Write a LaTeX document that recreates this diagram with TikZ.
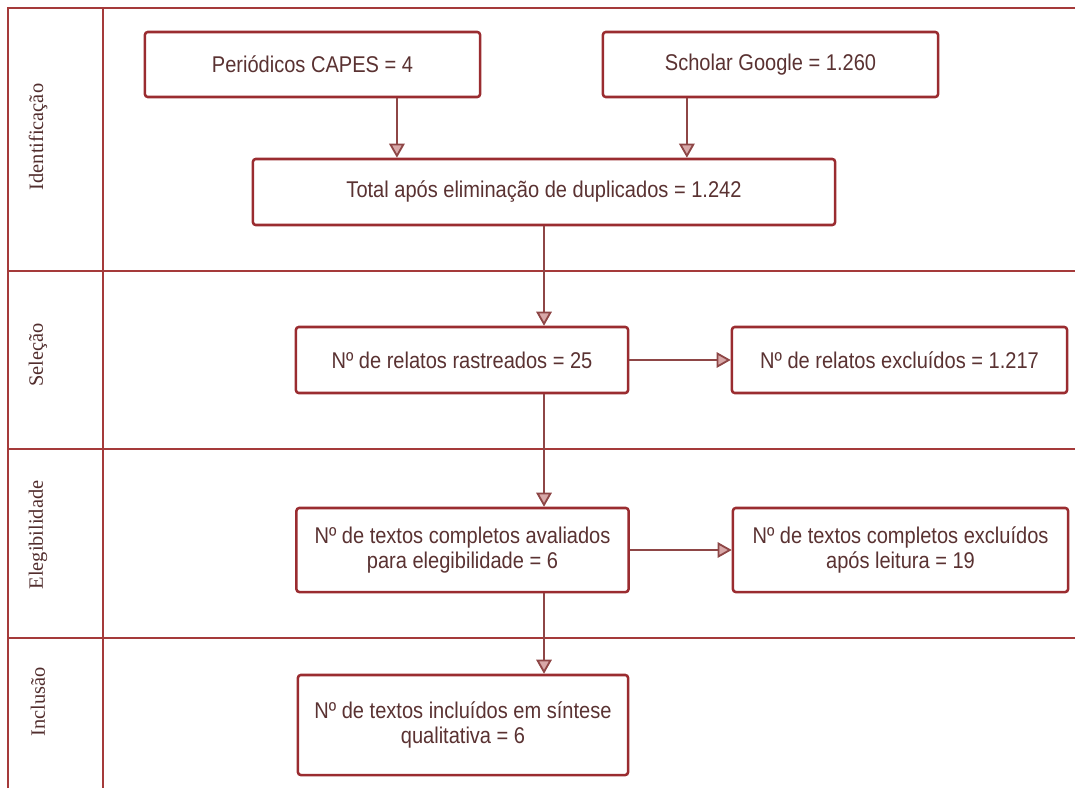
\documentclass[tikz,border=0pt]{standalone}
\usepackage{fontspec}
\usetikzlibrary{arrows.meta}
\setmainfont{Liberation Serif}
\newfontfamily\boxfont{Liberation Sans}[FakeStretch=0.88]
\definecolor{framered}{HTML}{A53A3A}
\definecolor{boxred}{HTML}{9A2C30}
\definecolor{textbrown}{HTML}{5A3232}
\definecolor{linkred}{HTML}{8E4646}
\definecolor{tipfill}{HTML}{D8A8A8}

\begin{document}
\begin{tikzpicture}[x=0.025cm,y=-0.025cm,
	frame/.style={framered,line width=1.4pt},
	stage/.style={rotate=90,font=\fontsize{14.5}{16}\selectfont,text=textbrown!90!black},
	box/.style={draw=boxred,line width=1.8pt,rounded corners=2pt,fill=white,inner sep=0pt,
		font=\boxfont\fontsize{16.2}{18}\selectfont,text=textbrown,align=center},
	link/.style={linkred,line width=1.3pt,-{Triangle[width=11pt,length=10pt,fill=tipfill]}}]
	\useasboundingbox (0,0) rectangle (1075,788);
	
	% Frame
	\draw[frame] (8,788) -- (8,8) -- (1075,8);
	\draw[frame] (103,8) -- (103,788);
	\foreach \y in {271,449,638}
		\draw[frame] (8,\y) -- (1075,\y);
	
	%Label
	\node[stage] (ident) at (38,137) {Identificação};
	\node[stage] (selec) at (38,355) {Seleção};
	\node[stage] (eleg) at (38,535) {Elegibilidade};
	\node[stage] (incl) at (38,702) {Inclusão};
	
	% Node
	\node[box,minimum width=8.375cm,minimum height=1.625cm] (capes) at (312.5,64.5) {Periódicos CAPES = 4};
	\node[box,minimum width=8.375cm,minimum height=1.625cm] (scholar) at (770.5,64.5) {Scholar Google = 1.260};
	\node[box,minimum width=14.55cm,minimum height=1.65cm] (total) at (544,192) {Total após eliminação de duplicados = 1.242};
	\node[box,minimum width=8.3cm,minimum height=1.65cm] (rastreados) at (462,360) {Nº de relatos rastreados = 25};
	\node[box,minimum width=8.375cm,minimum height=1.65cm] (excluidos) at (899.5,360) {Nº de relatos excluídos = 1.217};
	\node[box,minimum width=8.3cm,minimum height=2.1cm] (avaliados) at (462.5,550) {Nº de textos completos avaliados\\para elegibilidade = 6};
	\node[box,minimum width=8.375cm,minimum height=2.1cm] (leitura) at (900.5,550) {Nº de textos completos excluídos\\após leitura = 19};
	\node[box,minimum width=8.25cm,minimum height=2.5cm] (incluidos) at (463,725) {Nº de textos incluídos em síntese\\qualitativa = 6};
	
	%link
	\coordinate (capesout) at ([xshift=2.11cm]capes.south);
	\coordinate (scholarout) at ([xshift=-2.09cm]scholar.south);
	\draw[link] (capesout) -- (capesout |- total.north);
	\draw[link] (scholarout) -- (scholarout |- total.north);
	\draw[link] (total.south) -- (total.south |- rastreados.north);
	\draw[link] (rastreados.east) -- (excluidos.west);
	\draw[link] (total.south |- rastreados.south) -- (total.south |- avaliados.north);
	\draw[link] (avaliados.east) -- (leitura.west);
	\draw[link] (total.south |- avaliados.south) -- (total.south |- incluidos.north);

\end{tikzpicture}
\end{document}
